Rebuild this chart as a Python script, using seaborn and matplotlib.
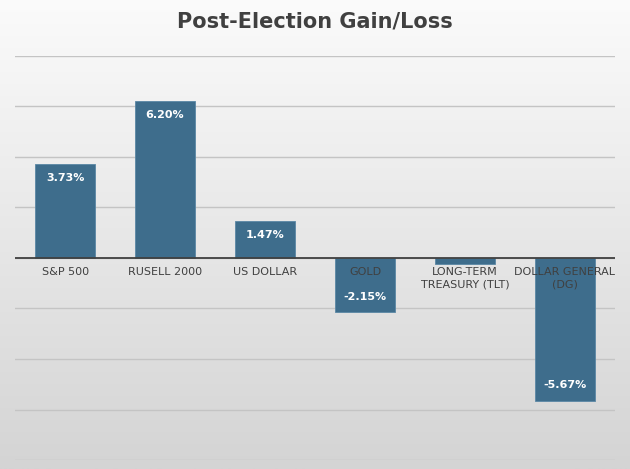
import numpy as np
import pandas as pd
import matplotlib.pyplot as plt
import seaborn as sns

categorias = ["S&P 500", "RUSELL 2000", "US DOLLAR", "GOLD",
              "LONG-TERM\nTREASURY (TLT)", "DOLLAR GENERAL\n(DG)"]
valores = [3.73, 6.20, 1.47, -2.15, -0.25, -5.67]
rotulos = ["3.73%", "6.20%", "1.47%", "-2.15%", "", "-5.67%"]

df = pd.DataFrame({"cat": categorias, "val": valores})

fig = plt.figure(figsize=(6.3, 4.69), dpi=100)

# fundo em degradê (branco no topo, cinza embaixo)
bg = fig.add_axes([0, 0, 1, 1], zorder=0)
grad = np.linspace(0.0, 1.0, 256).reshape(-1, 1)
bg.imshow(grad, aspect="auto", cmap=plt.matplotlib.colors.LinearSegmentedColormap.from_list(
    "g", ["#d4d4d4", "#fbfbfb"]), extent=[0, 1, 0, 1], origin="lower")
bg.axis("off")

ax = fig.add_axes([0.024, 0.019, 0.952, 0.862], zorder=1)
ax.patch.set_alpha(0)

sns.barplot(x="cat", y="val", data=df, color="#3e6d8c", width=0.6,
            saturation=1, edgecolor="#5a87a5", linewidth=0.6, ax=ax, zorder=2)

ax.set_ylim(-8, 8)
ax.grid(axis="y", color="#c4c4c4", linewidth=1, zorder=0)
ax.axhline(0, color="#404040", linewidth=1.3, zorder=3)
ax.set_axisbelow(True)
for s in ax.spines.values():
    s.set_visible(False)
ax.set_xticks([])
ax.set_yticks(np.arange(-8, 9, 2), labels=[])
ax.tick_params(length=0)
ax.set_xlabel("")
ax.set_ylabel("")
ax.set_xlim(-0.5, 5.5)

for i, (c, v, r) in enumerate(zip(categorias, valores, rotulos)):
    ax.text(i, -0.35, c, ha="center", va="top", fontsize=8,
            color="#404040", zorder=4, linespacing=1.3)
    if r:
        if v > 0:
            y = v - 0.55
        elif i == 3:
            y = v + 0.6
        else:
            y = v + 0.65
        ax.text(i, y, r, ha="center", va="center", fontsize=8,
                color="white", weight="bold", zorder=4)

fig.text(0.5, 0.955, "Post-Election Gain/Loss", ha="center", va="center",
         fontsize=15, weight="bold", color="#404040")

plt.savefig("out.png", dpi=100)
